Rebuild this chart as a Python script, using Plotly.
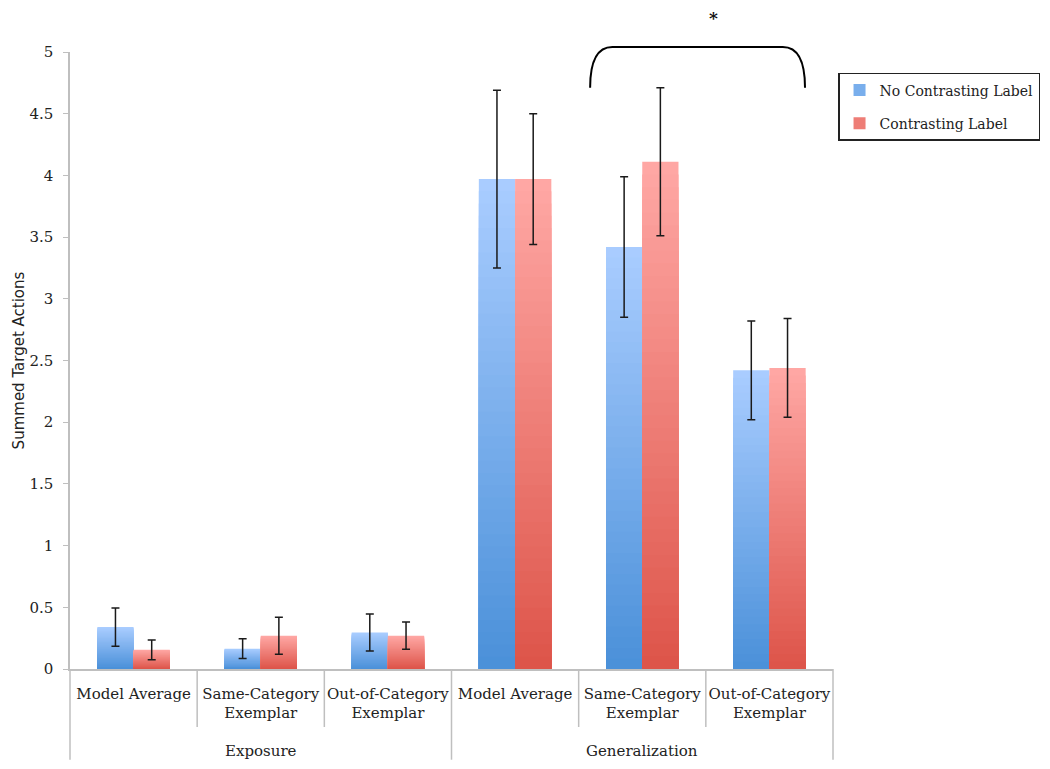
import plotly.graph_objects as go

# ---------------- data ----------------
groups = ["Exposure", "Generalization"]
conditions = ["Model Average", "Same-Category<br>Exemplar", "Out-of-Category<br>Exemplar",
              "Model Average", "Same-Category<br>Exemplar", "Out-of-Category<br>Exemplar"]
series_names = ["No Contrasting Label", "Contrasting Label"]
no_contrast = [0.34, 0.165, 0.295, 3.97, 3.42, 2.42]
no_contrast_err = [0.155, 0.08, 0.15, 0.72, 0.57, 0.40]
contrast = [0.155, 0.27, 0.27, 3.97, 4.11, 2.44]
contrast_err = [0.08, 0.15, 0.11, 0.53, 0.60, 0.40]
y_ticks = [0, 0.5, 1, 1.5, 2, 2.5, 3, 3.5, 4, 4.5, 5]

# ---------------- style ----------------
FONT_SERIF = "DejaVu Serif"
blue_top, blue_bot = (170, 205, 255), (74, 144, 217)
red_top, red_bot = (255, 168, 165), (221, 84, 73)
N_SEG = 40

x_pos = list(range(len(conditions)))


def mix(c1, c2, t):
    return "rgb(%d,%d,%d)" % tuple(round(a + (b - a) * t) for a, b in zip(c1, c2))


fig = go.Figure()

for name, vals, errs, ctop, cbot, grp in [
    (series_names[0], no_contrast, no_contrast_err, blue_top, blue_bot, "nc"),
    (series_names[1], contrast, contrast_err, red_top, red_bot, "cl"),
]:
    # gradient bars: overlapping bars from full height (light) down to short (dark)
    for k in range(N_SEG):
        frac = (N_SEG - k) / N_SEG
        t = (N_SEG - k - 0.5) / N_SEG
        fig.add_trace(go.Bar(
            x=x_pos,
            y=[v * frac for v in vals],
            offsetgroup=grp,
            marker=dict(color=mix(cbot, ctop, t), line=dict(width=0)),
            name=name,
            legendgroup=grp,
            showlegend=(k == N_SEG // 2),
            hoverinfo="skip",
        ))
    # error bars on transparent full-height bars
    fig.add_trace(go.Bar(
        x=x_pos,
        y=vals,
        offsetgroup=grp,
        marker=dict(color="rgba(0,0,0,0)", line=dict(width=0)),
        error_y=dict(type="data", array=errs, visible=True, color="#1a1a1a",
                     thickness=1.5, width=4),
        name=name,
        legendgroup=grp,
        showlegend=False,
    ))

# category dividers below the axis (paper coords)
ncat = len(conditions)
shapes = []
for i in range(ncat + 1):
    long_line = i in (0, 3, ncat)
    shapes.append(dict(type="line", xref="paper", yref="paper",
                       x0=i / ncat, x1=i / ncat, y0=0, y1=-0.147 if long_line else -0.094,
                       line=dict(color="#BFBFBF", width=1.5)))

# significance bracket over the Generalization same/out-of-category pair
bx0, bx1 = 3.59, 5.28
by_top, by_end = 1.008, 0.942
cx = 0.175
path = (f"M {bx0},{by_end} Q {bx0},{by_top} {bx0 + cx},{by_top} "
        f"L {bx1 - cx},{by_top} Q {bx1},{by_top} {bx1},{by_end}")
shapes.append(dict(type="path", xref="x", yref="paper", path=path,
                   line=dict(color="black", width=2)))

annotations = [
    dict(x=1, y=-0.15, xref="x", yref="paper", text=groups[0], showarrow=False,
         font=dict(family=FONT_SERIF, size=15, color="#222")),
    dict(x=4, y=-0.15, xref="x", yref="paper", text=groups[1], showarrow=False,
         font=dict(family=FONT_SERIF, size=15, color="#222")),
    dict(x=4.56, y=1.0735, xref="x", yref="paper", yanchor="top", text="<b>*</b>",
         showarrow=False, borderpad=0,
         font=dict(family=FONT_SERIF, size=17, color="#111")),
]

fig.update_layout(
    width=1042, height=761,
    margin=dict(l=62, r=217, t=44, b=100, autoexpand=False),
    paper_bgcolor="white", plot_bgcolor="white",
    barmode="group", bargap=0.43, bargroupgap=0,
    shapes=shapes, annotations=annotations,
    showlegend=True,
    legend=dict(x=1.0066, y=0.966, xanchor="left", yanchor="top",
                bordercolor="#222", borderwidth=1.5, bgcolor="white",
                font=dict(family=FONT_SERIF, size=14, color="#222"),
                traceorder="grouped", itemwidth=30, tracegroupgap=12),
    font=dict(family=FONT_SERIF, color="#222"),
)

fig.update_xaxes(
    range=[-0.5, 5.5], tickvals=x_pos, ticktext=conditions,
    showline=True, linecolor="#BFBFBF", linewidth=1.5,
    ticks="", showgrid=False, zeroline=False, automargin=False,
    tickfont=dict(family=FONT_SERIF, size=15, color="#222"),
    ticklabelstandoff=10,
)
fig.update_yaxes(
    range=[0, 5], tickvals=y_ticks, ticktext=[f"{v:g}" for v in y_ticks],
    showline=True, linecolor="#BFBFBF", linewidth=1.5,
    ticks="outside", ticklen=5, tickcolor="#BFBFBF",
    showgrid=False, zeroline=False, automargin=False,
    tickfont=dict(family=FONT_SERIF, size=15, color="#222"),
    ticklabelstandoff=7,
    title=dict(text="Summed Target Actions", standoff=1,
               font=dict(family="DejaVu Sans", size=15, color="#222")),
)

fig.write_html("out.html")
